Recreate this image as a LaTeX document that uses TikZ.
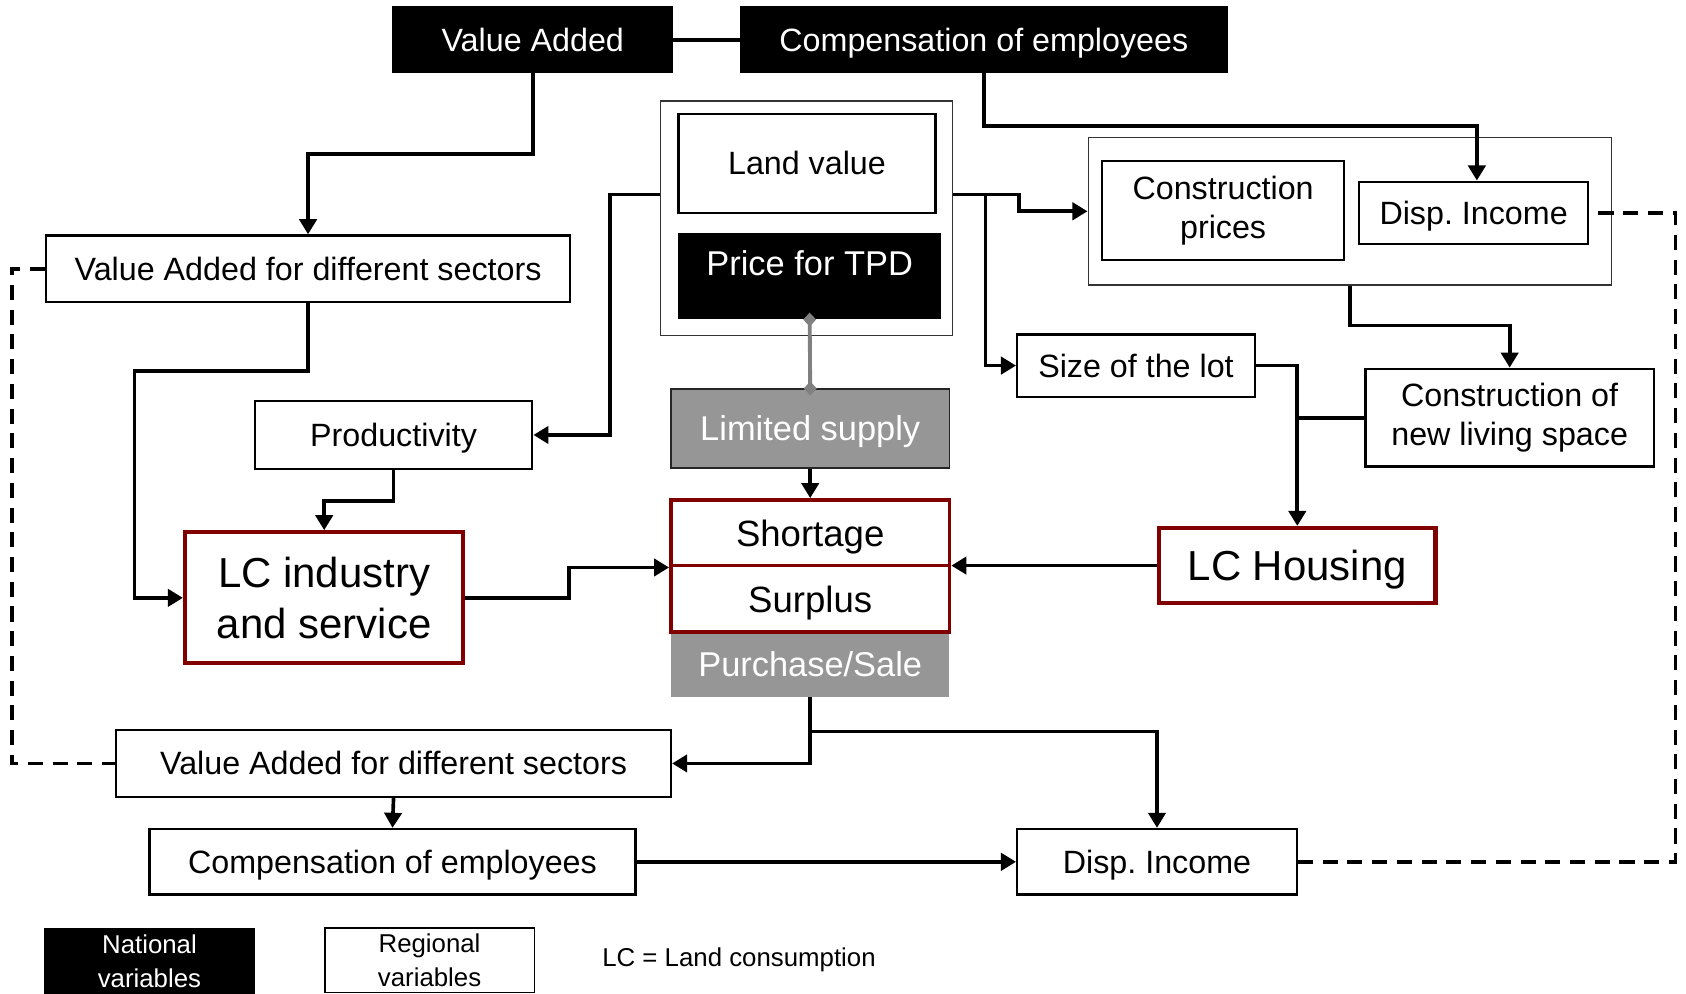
\documentclass[tikz,border=0pt]{standalone}
\usepackage{fontspec}
\setmainfont{Liberation Sans}
\usetikzlibrary{arrows.meta}
\definecolor{lcred}{RGB}{128,0,0}
\definecolor{midgray}{RGB}{150,150,150}
\definecolor{lgray}{RGB}{128,128,128}
\begin{document}
\frenchspacing
\begin{tikzpicture}[x=1pt,y=-1pt,
  box/.style={draw=black, line width=2.2pt, fill=white, inner sep=0pt, align=center, font=\fontsize{30}{36}\selectfont},
  oneline/.style={text depth=0pt},
  natbox/.style={fill=black, text=white, inner sep=0pt, align=center, font=\fontsize{30}{36}\selectfont},
  grpbox/.style={draw=black!80, line width=1.2pt, fill=white, inner sep=0pt},
  lcbox/.style={draw=lcred, line width=3.8pt, fill=white, inner sep=0pt, align=center, font=\fontsize{39}{48}\selectfont},
  ssbox/.style={draw=lcred, line width=3.5pt, fill=white, inner sep=0pt, align=center, font=\fontsize{34}{40}\selectfont},
  graybox/.style={fill=midgray, text=white, inner sep=0pt, align=center, font=\fontsize{32}{38}\selectfont},
  legbox/.style={inner sep=0pt, align=center, font=\fontsize{24}{31}\selectfont},
  conn/.style={line width=3.4pt, -{Triangle[length=14pt,width=16pt]}},
  plain/.style={line width=3.4pt},
  dashconn/.style={line width=3.4pt, dash pattern=on 14pt off 9pt},
  graylink/.style={draw=lgray, line width=3.6pt, {Diamond[length=13pt,width=12pt]}-{Diamond[length=13pt,width=12pt]}, shorten <=-6.5pt, shorten >=-6.5pt}
]
\useasboundingbox (0,0) rectangle (1568,924);
\clip (0,0) rectangle (1568,924);
\fill[white] (0,0) rectangle (1568,924);

% groups
\node[grpbox, minimum width=272pt, minimum height=218pt] (lvgrp) at (750,203) {};
\node[grpbox, minimum width=487pt, minimum height=137pt] (cgrp) at (1255.5,196.5) {};

% national boxes
\node[natbox, minimum width=261pt, minimum height=62pt] (va) at (495.5,37) {Value Added};
\node[natbox, oneline, minimum width=454pt, minimum height=62pt] (comp) at (915,37) {Compensation of employees};
\node[natbox, minimum width=244pt, minimum height=80pt] (tpd) at (753,257) {};
\node[text=white, inner sep=0pt, font=\fontsize{32}{38}\selectfont] (tpdt) at ([yshift=12pt]tpd.center) {Price for TPD};

% regional boxes
\node[box, minimum width=239pt, minimum height=92pt] (lv) at (750.5,152) {Land value};
\node[box, minimum width=225pt, minimum height=92pt] (cp) at (1137.5,196) {Construction\\prices};
\node[box, oneline, minimum width=213pt, minimum height=58pt] (di1) at (1370.5,198) {Disp. Income};
\node[box, minimum width=221pt, minimum height=58pt] (lot) at (1056.5,340) {Size of the lot};
\node[box, minimum width=268pt, minimum height=91pt] (cnl) at (1404,388.5) {Construction of\\new living space};
\node[box, minimum width=487pt, minimum height=62pt] (vas1) at (286.5,250) {Value Added for different sectors};
\node[box, oneline, minimum width=258pt, minimum height=63pt] (prod) at (366,404.5) {Productivity};
\node[box, minimum width=516pt, minimum height=62pt] (vas2) at (366,710) {Value Added for different sectors};
\node[box, oneline, minimum width=452pt, minimum height=61pt] (comp2) at (365,801.5) {Compensation of employees};
\node[box, oneline, minimum width=260pt, minimum height=61pt] (di2) at (1076,801.5) {Disp. Income};

% gray boxes
\node[graybox, oneline, draw=black!85, line width=1.5pt, minimum width=259pt, minimum height=73pt] (lim) at (753.5,398.5) {Limited supply};
\node[graybox, minimum width=259pt, minimum height=60pt] (ps) at (753.5,618) {Purchase/Sale};

% land consumption boxes
\node[ssbox, oneline, minimum width=259pt, minimum height=61pt] (sh) at (753.5,495.5) {Shortage};
\node[ssbox, oneline, minimum width=259pt, minimum height=62pt] (su) at (753.5,557) {Surplus};
\node[lcbox, minimum width=259pt, minimum height=122pt] (lci) at (301.5,556) {LC industry\\and service};
\node[lcbox, oneline, minimum width=257pt, minimum height=70pt] (lch) at (1206.5,526) {LC Housing};

% legend
\node[legbox, fill=black, text=white, minimum width=196pt, minimum height=62pt] (nat) at (139,894) {National\\variables};
\node[legbox, draw=black, line width=1.5pt, minimum width=195pt, minimum height=60pt] (reg) at (399.5,893) {Regional\\variables};
\node[legbox, anchor=west] (lcnote) at (560,893) {LC = Land consumption};

% connectors
\draw[plain] (va.east) -- (va.east -| comp.west);
\draw[conn] (va.south) -- ++(0,75) -| (vas1.north);
\draw[conn] (comp.south) -- ++(0,49) -| ([xshift=3pt]di1.north);
\draw[conn] ([yshift=22pt]lvgrp.west) -- ++(-46,0) |- (prod.east);
\draw[conn] ([yshift=22pt]lvgrp.east) -- ++(61,0) |- (cgrp.west);
\draw[conn] ([yshift=22pt,xshift=30pt]lvgrp.east) |- (lot.west);
\draw[conn] (lot.east) -| (lch.north);
\draw[plain] (cnl.west) -- (cnl.west -| lch.north);
\draw[conn] (cgrp.south) -- ++(0,37) -| (cnl.north);
\draw[conn] (lch.west) -- (lch.west -| sh.east);
\draw[conn] (lci.east) -- ++(96,0) |- (sh.south west);
\draw[conn] (lim.south) -- (sh.north);
\draw[conn] (ps.south) |- (vas2.east);
\draw[conn] ([yshift=-32pt]ps.south) -| (di2.north);
\draw[conn] (vas1.south) -- ++(0,63) -- ++(-161.5,0) |- (lci.west);
\draw[conn] (prod.south) -- ++(0,29) -| (lci.north);
\draw[conn] (vas2.south) -- (comp2.north);
\draw[conn] (comp2.east) -- (di2.west);
\draw[dashconn] (vas1.west) -- ++(-31,0) |- (vas2.west);
\draw[dashconn] (di2.east) -- ++(351,0) |- (di1.east);
\draw[graylink] (tpd.south) -- (lim.north);
\end{tikzpicture}
\end{document}
